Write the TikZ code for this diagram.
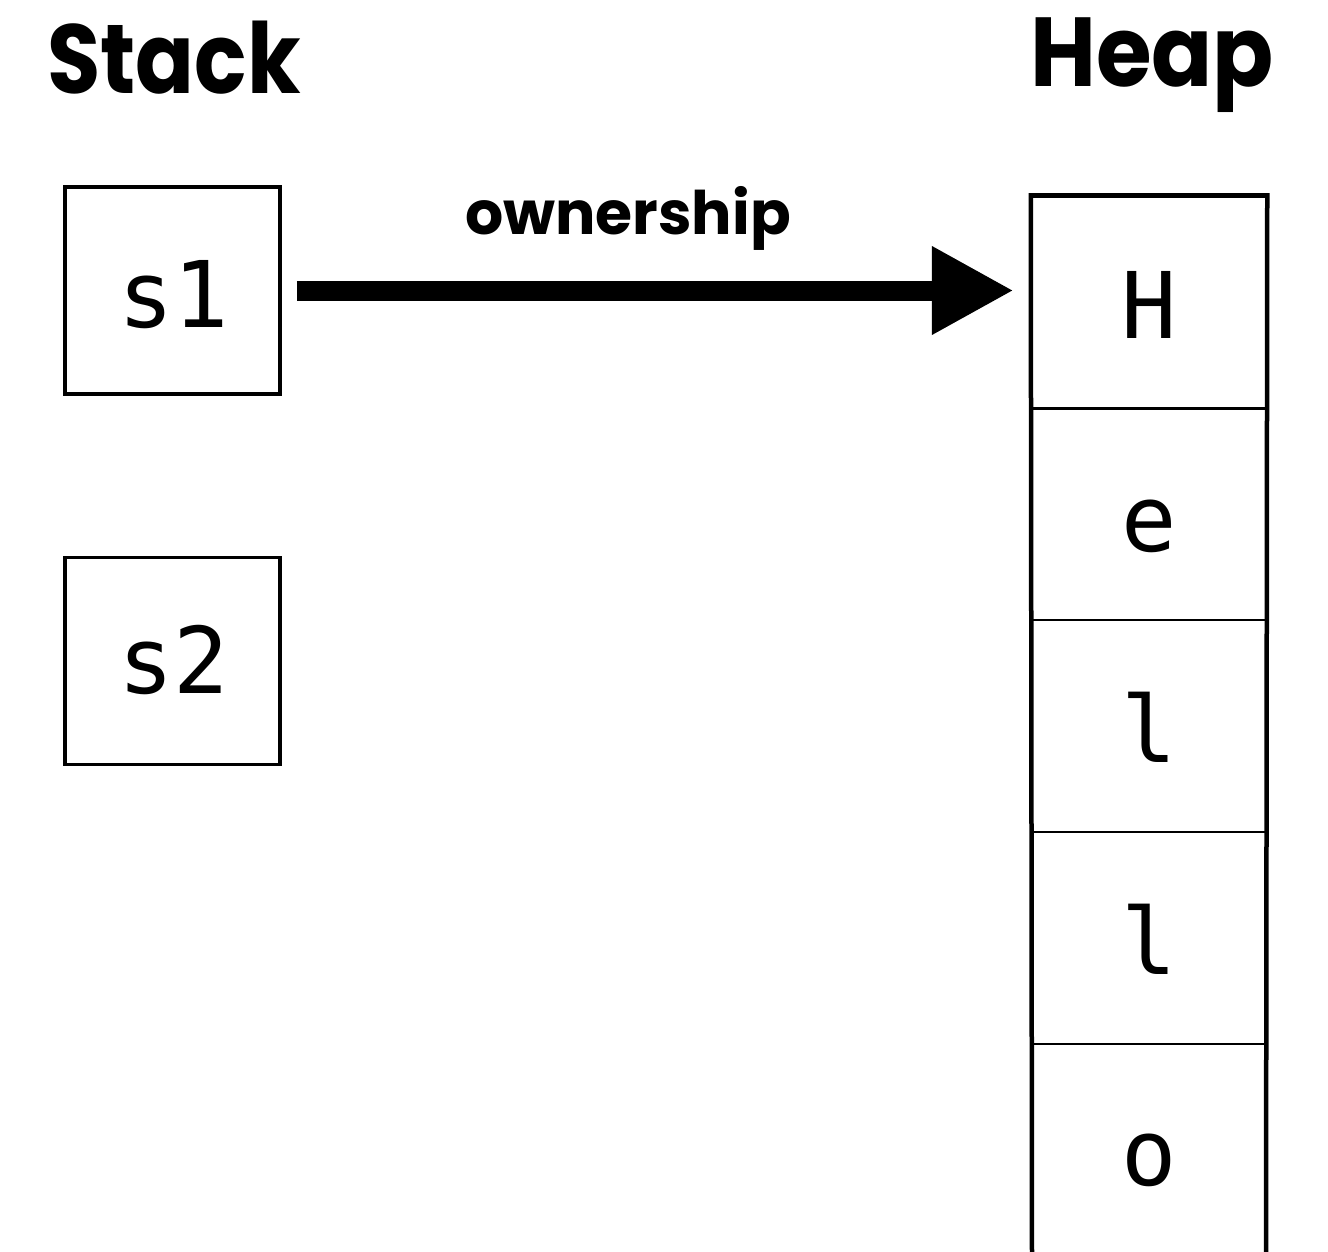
\documentclass[tikz,border=0pt]{standalone}
\usepackage{graphicx}
\usepackage{fontspec}
\setmainfont{Poppins}[BoldFont={* Bold}]
\newfontfamily\headfont{Poppins Bold}
\newfontfamily\codefont{DejaVu Sans Mono}
\usetikzlibrary{arrows.meta}
\begin{document}
\begin{tikzpicture}[x=1pt,y=-1pt,
  heading/.style={inner sep=0pt, anchor=base west, font=\headfont\fontsize{98}{100}\selectfont},
  stackbox/.style={draw, line width=3.5pt, minimum width=215pt, minimum height=207pt, inner sep=0pt},
  code/.style={inner sep=0pt, anchor=base, font=\codefont\fontsize{92}{96}\selectfont},
  cell/.style={draw, line width=2.5pt, minimum width=234pt, minimum height=212pt, inner sep=0pt},
  outer/.style={line width=4.5pt},
  own/.style={line width=20pt, -{Triangle[length=82pt,width=83pt]}},
  ownlabel/.style={inner sep=0pt, anchor=base, font=\headfont\fontsize{60}{62}\selectfont}
]
\useasboundingbox (0,0) rectangle (1328,1251);
\fill[white] (0,0) rectangle (1328,1251);

\node[heading] (stack) at (47,93) {\scalebox{0.885}[1]{Stack}};
\node[heading] (heap) at (1030,86) {\scalebox{0.92}[1]{Heap}};

\node[stackbox] (s1) at (172.5,290.5) {};
\node[stackbox] (s2) at (172.5,661) {};
\node[code] (s1t) at (174,327) {s1};
\node[code] (s2t) at (174,693) {s2};

\node[cell] (c1) at (1149,302.5) {};
\node[cell] (c2) at (1149,514) {};
\node[cell] (c3) at (1149,726) {};
\node[cell] (c4) at (1149,938) {};
\coordinate (c5bl) at (1032,1260);
\coordinate (c5br) at (1266,1260);
\draw[outer] (c5bl) -- (c4.south west |- c1.north) -- (c1.north east) -- (c5br);

\node[code] (h) at (1149,338) {H};
\node[code] (e) at (1149,551) {e};
\node[code] (l1) at (1149,762) {l};
\node[code] (l2) at (1149,974) {l};
\node[code] (o) at (1149,1185) {o};

\draw[own, shorten <=15pt, shorten >=17pt] (s1.east) -- (c1.west |- s1.east);
\node[ownlabel] (ownl) at (628,234) {ownership};
\end{tikzpicture}
\end{document}
